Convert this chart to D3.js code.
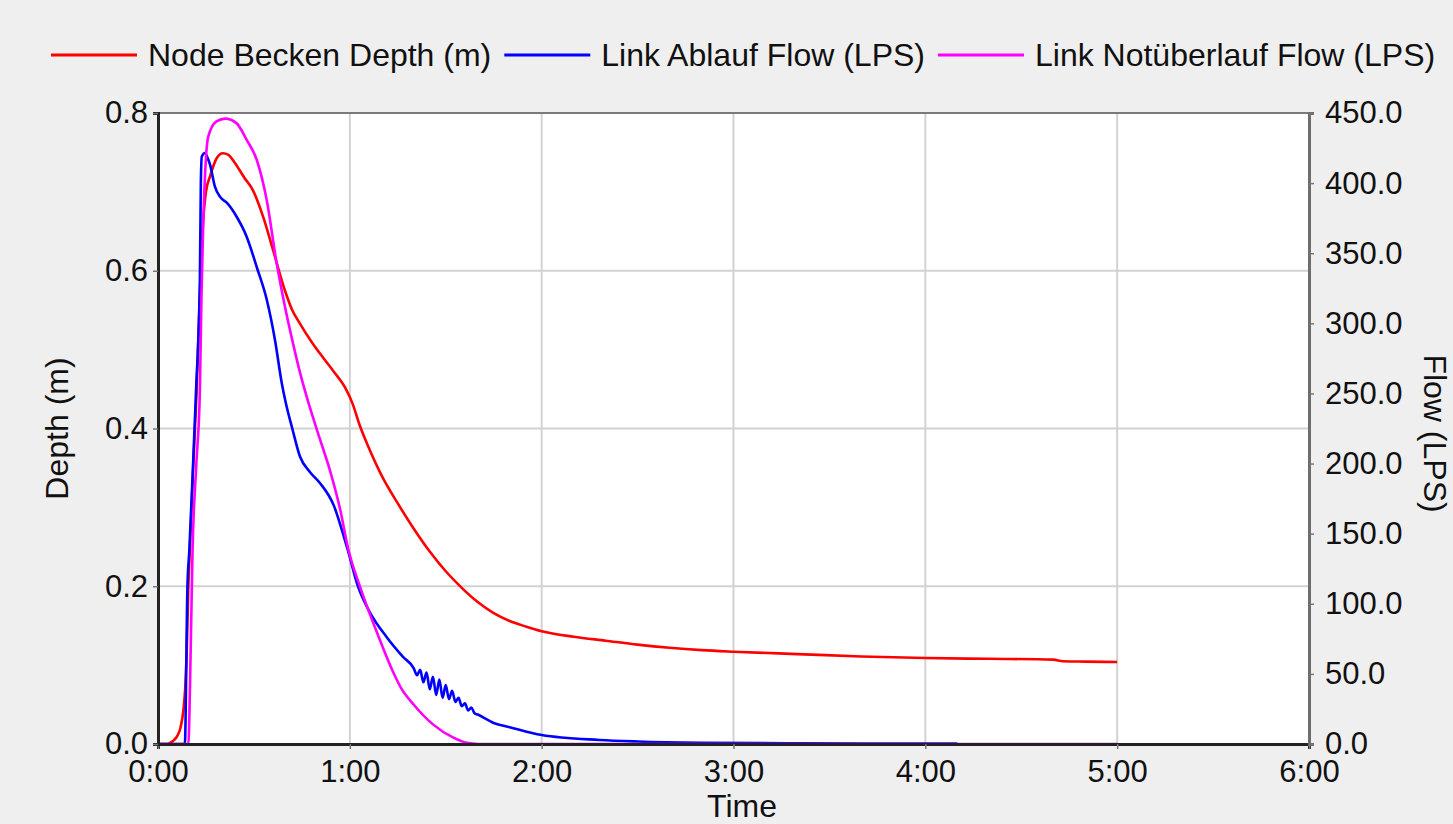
<!DOCTYPE html>
<html>
<head>
<meta charset="utf-8">
<script src="https://cdn.jsdelivr.net/npm/d3@7"></script>
<style>
  html, body { margin: 0; padding: 0; background: #efefef; }
  text { font-family: "Liberation Sans", Arial, sans-serif; fill: #111; }
</style>
</head>
<body>
<div id="chart"></div>
<script>
// time in minutes, depth in m
var depthTime = [0, 3, 4, 5, 6, 7, 8, 8.5, 9, 9.5, 10, 11, 12, 13, 14, 15, 16.3, 18.4, 20.3, 22, 24, 27, 29.7, 33, 36, 39.7, 42, 44.4, 48, 51.6, 55, 58.5, 61, 63, 66, 70, 75, 80, 85, 90, 95, 100, 105, 110, 115, 120, 130, 140, 150, 160, 170, 180, 200, 220, 240, 260, 280, 283, 290, 300];
var depthValues = [0, 0, 0.002, 0.005, 0.01, 0.02, 0.045, 0.07, 0.12, 0.2, 0.25, 0.35, 0.44, 0.56, 0.655, 0.7, 0.72, 0.743, 0.749, 0.747, 0.737, 0.718, 0.702, 0.667, 0.626, 0.575, 0.55, 0.533, 0.51, 0.49, 0.472, 0.452, 0.43, 0.405, 0.375, 0.34, 0.305, 0.273, 0.244, 0.219, 0.198, 0.18, 0.166, 0.156, 0.149, 0.143, 0.136, 0.131, 0.126, 0.122, 0.119, 0.117, 0.114, 0.111, 0.109, 0.108, 0.107, 0.105, 0.1045, 0.104];

// Link Ablauf flow (LPS)
var ablaufTime = [0, 8.4, 9.2, 9.8, 10.8, 11.9, 13.1, 13.4, 13.7, 14.7, 15.5, 16.3, 17.8, 19.5, 21.5, 24.6, 27.7, 30.9, 34, 36.6, 38.7, 40, 42, 44.4, 47.5, 50.7, 55, 58.5, 59.4, 62.6, 66, 71.6, 76.7, 80, 81, 82, 83, 84, 85, 86, 87, 88, 89, 90, 91, 92, 93, 94, 95, 96, 97, 98, 99, 100, 105, 110, 120, 138, 150, 170, 200, 250];
var ablaufValues = [0, 0, 112, 138, 190, 252, 331, 400, 419, 421.5, 418, 413, 397.5, 390, 386, 376, 362, 340, 317, 288, 257.5, 243, 225, 205, 194, 186, 170, 145, 138, 112, 95, 76, 62, 54, 49, 53, 44, 51, 39, 48, 35, 46, 33, 42, 32, 38, 30, 33, 27, 29, 24, 26, 22, 21, 15, 12, 6.4, 2.9, 1.8, 0.9, 0.5, 0.3];

// Link Notüberlauf flow (LPS)
var notTime = [0, 9.5, 10, 10.8, 12, 13.1, 13.6, 14.1, 14.8, 15.7, 18.3, 21, 24.6, 27.7, 30.9, 34, 37.1, 39.7, 42.3, 44.4, 47.5, 50.7, 53.8, 57, 59.4, 63.2, 68.4, 73.6, 76, 80, 86, 92.4, 96.6, 100, 300];
var notValues = [0, 0, 40, 138, 200, 252, 320, 367, 410, 433, 444, 446, 442.6, 431, 416.5, 388, 343, 312, 285, 265, 240, 217, 195, 167, 140, 112, 80, 51, 40, 28, 14, 4.5, 0.8, 0, 0];

var timeTicks = [0, 60, 120, 180, 240, 300, 360];
var depthTicks = [0, 0.2, 0.4, 0.6, 0.8];
var flowTicks = [0, 50, 100, 150, 200, 250, 300, 350, 400, 450];

var seriesNames = ["Node Becken Depth (m)", "Link Ablauf Flow (LPS)", "Link Notüberlauf Flow (LPS)"];
var seriesColors = ["#ff0000", "#0000ff", "#ff00ff"];

var W = 1453, H = 824;
var margin = {top: 113, right: 144, bottom: 80, left: 158};
var width = W - margin.left - margin.right,
    height = H - margin.top - margin.bottom;

var svg = d3.select("#chart").append("svg")
  .attr("width", W)
  .attr("height", H);

svg.append("rect").attr("width", W).attr("height", H).attr("fill", "#efefef");

var g = svg.append("g")
  .attr("transform", "translate(" + margin.left + "," + margin.top + ")");

var x = d3.scaleLinear().domain([0, 360]).range([0, width]);
var yL = d3.scaleLinear().domain([0, 0.8]).range([height, 0]);
var yR = d3.scaleLinear().domain([0, 450]).range([height, 0]);

g.append("rect").attr("width", width).attr("height", height).attr("fill", "#ffffff");

// grid
g.selectAll(".vgrid").data(timeTicks.slice(1, -1)).enter().append("line")
  .attr("x1", d => x(d)).attr("x2", d => x(d))
  .attr("y1", 0).attr("y2", height)
  .attr("stroke", "#d2d2d2").attr("stroke-width", 2);
g.selectAll(".hgrid").data(depthTicks.slice(1, -1)).enter().append("line")
  .attr("y1", d => yL(d)).attr("y2", d => yL(d))
  .attr("x1", 0).attr("x2", width)
  .attr("stroke", "#d2d2d2").attr("stroke-width", 2);

// top frame line
g.append("line").attr("x1", 0).attr("x2", width).attr("y1", 0).attr("y2", 0)
  .attr("stroke", "#7a7a7a").attr("stroke-width", 2);

// lines
var line = d3.line().curve(d3.curveMonotoneX);
function drawSeries(times, vals, scale, color) {
  var pts = times.map((t, i) => [x(t), scale(vals[i])]);
  g.append("path")
    .attr("d", line(pts))
    .attr("fill", "none")
    .attr("stroke", color)
    .attr("stroke-width", 2.6)
    .attr("stroke-linejoin", "round");
}
drawSeries(depthTime, depthValues, yL, seriesColors[0]);
drawSeries(ablaufTime, ablaufValues, yR, seriesColors[1]);
drawSeries(notTime, notValues, yR, seriesColors[2]);

// axes
var fmtTime = d => (d / 60) + ":00";
var xAxis = d3.axisBottom(x).tickValues(timeTicks).tickFormat(fmtTime).tickSize(5).tickPadding(11);
var yAxisL = d3.axisLeft(yL).tickValues(depthTicks).tickFormat(d3.format(".1f")).tickSize(5).tickPadding(5);
var yAxisR = d3.axisRight(yR).tickValues(flowTicks).tickFormat(d3.format(".1f")).tickSize(5).tickPadding(11);

var gx = g.append("g").attr("transform", "translate(0," + height + ")").call(xAxis);
var gl = g.append("g").call(yAxisL);
var gr = g.append("g").attr("transform", "translate(" + width + ",0)").call(yAxisR);

[gx, gl, gr].forEach(function(a) {
  a.selectAll("text").style("font-size", "31px").attr("fill", "#111");
  a.selectAll(".tick line").attr("stroke", "#777").attr("stroke-width", 1.5);
});
gx.select(".domain").attr("stroke", "#222").attr("stroke-width", 3);
gl.select(".domain").attr("stroke", "#222").attr("stroke-width", 3);
gr.select(".domain").attr("stroke", "#6e6e6e").attr("stroke-width", 3);

// axis titles
svg.append("text")
  .attr("transform", "translate(68," + (margin.top + height / 2) + ") rotate(-90)")
  .attr("text-anchor", "middle")
  .style("font-size", "32px")
  .text("Depth (m)");

svg.append("text")
  .attr("transform", "translate(1424," + (margin.top + height / 2 + 5) + ") rotate(90)")
  .attr("text-anchor", "middle")
  .style("font-size", "32px")
  .text("Flow (LPS)");

svg.append("text")
  .attr("x", 742)
  .attr("y", 817)
  .attr("text-anchor", "middle")
  .style("font-size", "32px")
  .text("Time");

// legend
var lx = 51, ly = 55;
seriesNames.forEach(function(name, i) {
  svg.append("line")
    .attr("x1", lx).attr("x2", lx + 86)
    .attr("y1", ly).attr("y2", ly)
    .attr("stroke", seriesColors[i]).attr("stroke-width", 3);
  var t = svg.append("text")
    .attr("x", lx + 97)
    .attr("y", ly + 11)
    .style("font-size", "32px")
    .text(name);
  lx = lx + 97 + t.node().getComputedTextLength() + 13;
});
</script>
</body>
</html>
